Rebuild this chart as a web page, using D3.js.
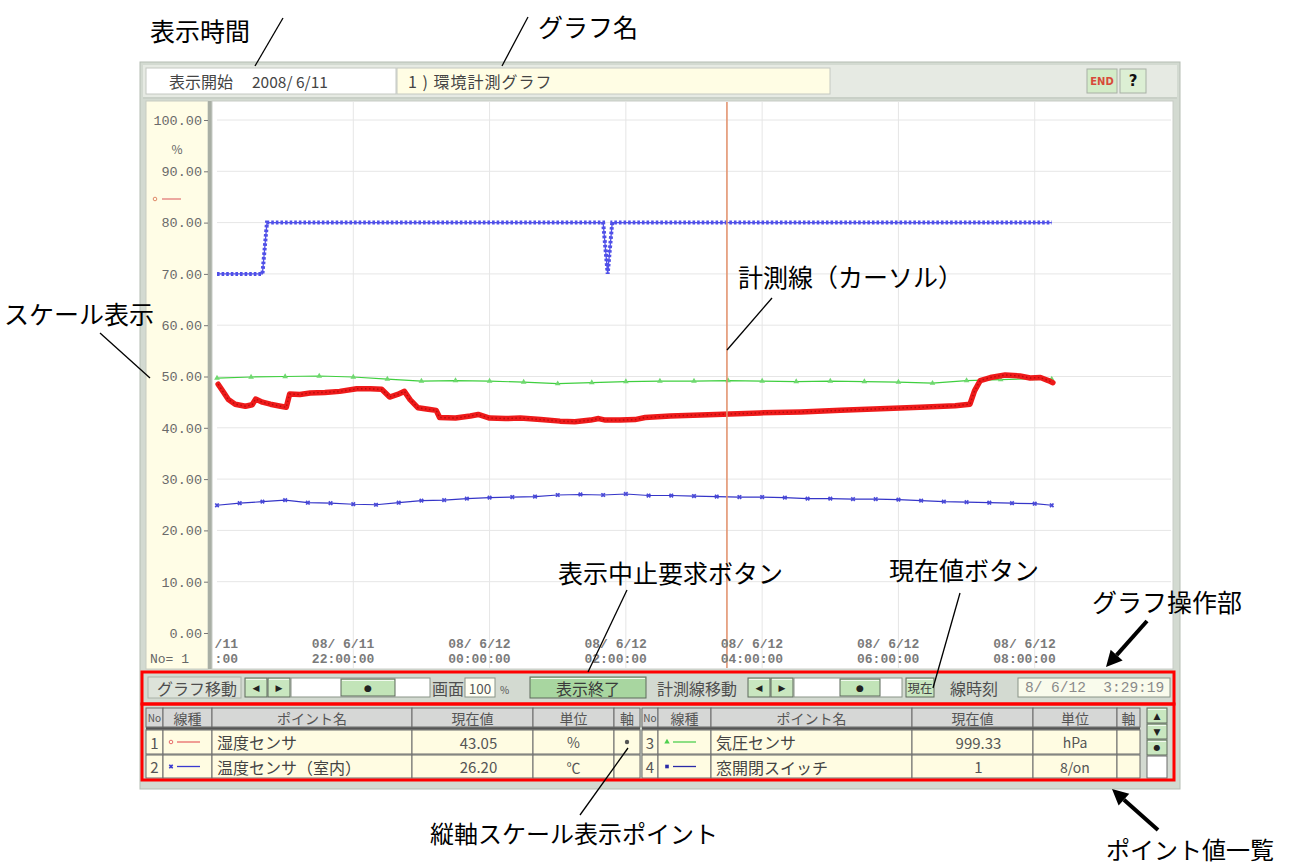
<!DOCTYPE html>
<html><head><meta charset="utf-8">
<script src="https://cdn.jsdelivr.net/npm/d3@7/dist/d3.min.js"></script>
<style>
html,body{margin:0;padding:0;background:#fff;}
svg{display:block;}
text{white-space:pre;}
</style></head>
<body>
<svg id="c" width="1290" height="865"></svg>
<script>
// ---------------- DATA ----------------
const startLabel = "2008/ 6/11";
const graphTitle = "1 ) 環境計測グラフ";
const yTicks = [0,10,20,30,40,50,60,70,80,90,100];
const xTickTimes = ["11 20:00","11 22:00","12 00:00","12 02:00","12 04:00","12 06:00","12 08:00"];
const xTickLine1 = ["08/ 6/11","08/ 6/11","08/ 6/12","08/ 6/12","08/ 6/12","08/ 6/12","08/ 6/12"];
const xTickLine2 = ["20:00:00","22:00:00","00:00:00","02:00:00","04:00:00","06:00:00","08:00:00"];
const xDomain = ["11 20:00","12 10:00"];
const cursorTime = "12 03:29";
const cursorLabel = "8/ 6/12  3:29:19";

// 1 湿度センサ (%)
const humidity = [
 ["11 20:01",48.5],["11 20:04",47.5],["11 20:10",45.5],["11 20:16",44.6],["11 20:25",44.2],
 ["11 20:31",44.5],["11 20:34",45.6],["11 20:40",45.0],["11 20:47",44.6],["11 20:56",44.2],
 ["11 21:01",44.0],["11 21:04",46.6],["11 21:13",46.5],["11 21:22",46.8],["11 21:35",46.9],
 ["11 21:48",47.1],["11 22:03",47.6],["11 22:15",47.6],["11 22:25",47.5],["11 22:32",46.0],
 ["11 22:39",46.5],["11 22:45",47.1],["11 22:50",45.5],["11 22:57",43.9],["11 23:06",43.6],
 ["11 23:13",43.4],["11 23:16",42.0],["11 23:30",41.9],["11 23:43",42.3],["11 23:50",42.6],
 ["12 00:00",41.9],["12 00:14",41.8],["12 00:27",41.9],["12 00:45",41.6],["12 01:02",41.3],
 ["12 01:15",41.2],["12 01:29",41.5],["12 01:36",41.8],["12 01:42",41.5],["12 01:55",41.5],
 ["12 02:08",41.6],["12 02:17",42.0],["12 02:39",42.3],["12 03:06",42.5],["12 03:32",42.7],
 ["12 03:58",42.9],["12 04:34",43.1],["12 05:09",43.4],["12 05:44",43.7],["12 06:19",44.0],
 ["12 06:50",44.3],["12 07:03",44.6],["12 07:07",47.2],["12 07:12",49.2],["12 07:21",49.8],
 ["12 07:34",50.3],["12 07:47",50.1],["12 07:56",49.7],["12 08:05",49.8],["12 08:12",49.2],
 ["12 08:16",48.8]
];
// 2 温度センサ（室内）
const temperature = [
 ["11 20:00",24.9],["11 20:20",25.3],["11 20:40",25.6],["11 21:00",25.9],["11 21:20",25.4],
 ["11 21:40",25.3],["11 22:00",25.1],["11 22:20",25.0],["11 22:40",25.4],["11 23:00",25.8],
 ["11 23:20",25.9],["11 23:40",26.2],["12 00:00",26.4],["12 00:20",26.5],["12 00:40",26.6],
 ["12 01:00",26.9],["12 01:20",27.0],["12 01:40",26.9],["12 02:00",27.1],["12 02:20",26.8],
 ["12 02:40",26.8],["12 03:00",26.7],["12 03:20",26.6],["12 03:40",26.5],["12 04:00",26.5],
 ["12 04:20",26.4],["12 04:40",26.2],["12 05:00",26.2],["12 05:20",26.1],["12 05:40",26.1],
 ["12 06:00",26.0],["12 06:20",25.8],["12 06:40",25.6],["12 07:00",25.5],["12 07:20",25.4],
 ["12 07:40",25.3],["12 08:00",25.2],["12 08:15",24.9]
];
// 3 気圧センサ
const pressure = [
 ["11 20:00",49.7],["11 20:30",49.9],["11 21:00",50.0],["11 21:30",50.1],["11 22:00",49.9],
 ["11 22:30",49.5],["11 23:00",49.1],["11 23:30",49.2],["12 00:00",49.1],["12 00:30",48.9],
 ["12 01:00",48.6],["12 01:30",48.8],["12 02:00",49.0],["12 02:30",49.1],["12 03:00",49.1],
 ["12 03:30",49.2],["12 04:00",49.1],["12 04:30",49.0],["12 05:00",49.1],["12 05:30",49.0],
 ["12 06:00",48.9],["12 06:30",48.7],["12 07:00",49.2],["12 07:30",49.4],["12 08:00",49.6],
 ["12 08:15",49.5]
];
// 4 窓開閉スイッチ
const windowSwitch = [
 ["11 20:00",70],["11 20:40",70],["11 20:44",80],["12 01:40",80],["12 01:44",70],
 ["12 01:48",80],["12 08:15",80]
];

const pointRows = [
 [{no:"1",name:"湿度センサ",value:"43.05",unit:"%",axis:true},
  {no:"2",name:"温度センサ（室内）",value:"26.20",unit:"℃",axis:false}],
 [{no:"3",name:"気圧センサ",value:"999.33",unit:"hPa",axis:false},
  {no:"4",name:"窓開閉スイッチ",value:"1",unit:"8/on",axis:false}]
];
const headers = ["No","線種","ポイント名","現在値","単位","軸"];

// ---------------- STYLE ----------------
const UIF = "'Noto Sans CJK JP','Noto Sans',sans-serif";
const MONO = "'Liberation Mono','DejaVu Sans Mono',monospace";
const seriesStyle = {
 hum:{color:"#ee1a1a"}, tmp:{color:"#3535c8"}, prs:{color:"#3fcf3f"}, win:{color:"#5050e8"}
};

const svg = d3.select("#c");
const parseT = s => d3.timeParse("%Y-%m-%d %H:%M")("2008-06-" + s);

function rect(x,y,w,h,fill,stroke,sw){
  return svg.append("rect").attr("x",x).attr("y",y).attr("width",w).attr("height",h)
    .attr("fill",fill).attr("stroke",stroke||"none").attr("stroke-width",sw||1);
}
function txt(x,y,s,o){
  o=o||{};
  return svg.append("text").attr("x",x).attr("y",y).text(s)
    .attr("font-family",o.ff||UIF).attr("font-size",o.fs||14)
    .attr("fill",o.fill||"#4a4a4a").attr("text-anchor",o.anchor||"start")
    .attr("dominant-baseline","central").attr("font-weight",o.fw||"normal")
    .attr("letter-spacing",o.ls||0);
}

// ---------------- WINDOW FRAME ----------------
rect(140,62,1040,727,"#d3dad1","#b5bdb3");
rect(143,65,1034,32,"#e6eae3","none");
rect(146,68,250,26,"#ffffff","#c4c8c2");
rect(397,68,433,26,"#fffde4","#c4c8c2");
txt(169,81,"表示開始",{fs:16,fill:"#444"});
txt(252,81,startLabel,{fs:15.5,fill:"#444"});
txt(408,81,graphTitle,{fs:16,fill:"#444",ls:1});
// END / ? buttons
rect(1087,69,30,24,"#d3ecc8","#a8b0a6");
txt(1102,81,"END",{fs:10,fill:"#d84a3a",anchor:"middle",fw:"bold",ff:"'DejaVu Sans',sans-serif"});
rect(1120,69,26,24,"#dcefd4","#a8b0a6");
txt(1133,81,"?",{fs:15,fill:"#111",anchor:"middle",fw:"bold",ff:"'DejaVu Sans',sans-serif"});
svg.append("line").attr("x1",143).attr("x2",1177).attr("y1",98).attr("y2",98).attr("stroke","#bfc6bd");

// ---------------- CHART ----------------
const plotL = 217, plotR = 1171, plotT = 101, plotB = 668;
const x = d3.scaleTime().domain(xDomain.map(parseT)).range([plotL, plotR]);
const y = d3.scaleLinear().domain([0,100]).range([633,120]);

rect(146,101,62,568,"#fffde6","#c8ccc2");
rect(208,101,4,568,"#a9afa5","none");
rect(212,101,961,568,"#ffffff","#c8ccc6");

const clip = svg.append("defs").append("clipPath").attr("id","pc");
clip.append("rect").attr("x",214).attr("y",102).attr("width",958).attr("height",566);
const plot = svg.append("g").attr("clip-path","url(#pc)");

// grid
plot.append("g").selectAll("line").data(yTicks.slice(1)).join("line")
  .attr("x1",plotL).attr("x2",plotR).attr("y1",d=>y(d)).attr("y2",d=>y(d))
  .attr("stroke","#e6e6e6").attr("stroke-width",1);
plot.append("g").selectAll("line").data(xTickTimes.slice(1)).join("line")
  .attr("x1",d=>x(parseT(d))).attr("x2",d=>x(parseT(d))).attr("y1",plotT).attr("y2",plotB)
  .attr("stroke","#e6e6e6").attr("stroke-width",1);

// x tick labels (two lines; leading chars cut where a label runs past the plot's left edge)
const xl = svg.append("g").selectAll("g").data(xTickTimes).join("g")
  .attr("transform",d=>`translate(${x(parseT(d))+21},0)`);
[[xTickLine1,644],[xTickLine2,659]].forEach(([labels,yy])=>{
  xl.append("text").attr("x",0).attr("y",yy)
    .attr("text-anchor","end").attr("dominant-baseline","central")
    .attr("font-family",MONO).attr("font-size",13).attr("fill","#7a7a7a")
    .attr("font-weight","bold")
    .text((d,i)=>labels[i]);
});
xl.each(function(d){
  const right = x(parseT(d))+21;
  d3.select(this).selectAll("text").each(function(){
    let s = this.textContent;
    while(s.length && right - this.getComputedTextLength() < plotL-4){
      s = s.slice(1); this.textContent = s;
    }
  });
});

// y axis
const ya = svg.append("g").attr("transform","translate(208,0)")
  .call(d3.axisLeft(y).tickValues(yTicks).tickFormat(d3.format(".2f")).tickSize(4).tickPadding(2));
ya.select(".domain").remove();
ya.selectAll(".tick line").attr("stroke","#777");
ya.selectAll(".tick text").attr("font-family",MONO).attr("font-size",13.5).attr("fill","#6a6a6a");
txt(177,148,"%",{fs:12,fill:"#666",anchor:"middle"});
svg.append("circle").attr("cx",155).attr("cy",199).attr("r",1.8).attr("fill","none").attr("stroke","#e08a6a");
svg.append("line").attr("x1",162).attr("x2",181).attr("y1",199).attr("y2",199).attr("stroke","#e07070").attr("stroke-width",1.2);
txt(150,659,"No= 1",{ff:MONO,fs:13,fill:"#666"});

const line = d3.line().x(d=>x(parseT(d[0]))).y(d=>y(d[1]));

// pressure (green, triangles)
plot.append("path").attr("d",line(pressure)).attr("fill","none")
  .attr("stroke",seriesStyle.prs.color).attr("stroke-width",1.2);
plot.append("g").selectAll("path").data(pressure).join("path")
  .attr("d",d3.symbol(d3.symbolTriangle,14)())
  .attr("transform",d=>`translate(${x(parseT(d[0]))},${y(d[1])})`)
  .attr("fill","#6fd86f");

// temperature (blue, crosses)
plot.append("path").attr("d",line(temperature)).attr("fill","none")
  .attr("stroke",seriesStyle.tmp.color).attr("stroke-width",1.2);
plot.append("g").selectAll("path").data(temperature).join("path")
  .attr("d",d3.symbol(d3.symbolCross,14)())
  .attr("transform",d=>`translate(${x(parseT(d[0]))},${y(d[1])}) rotate(45)`)
  .attr("fill","#4a4ad8");

// window switch (blue, dense squares)
plot.append("path").attr("d",line(windowSwitch)).attr("fill","none")
  .attr("stroke",seriesStyle.win.color).attr("stroke-width",1.3);
plot.append("path").attr("d",line(windowSwitch)).attr("fill","none")
  .attr("stroke",seriesStyle.win.color).attr("stroke-width",4).attr("stroke-dasharray","2.6 2");

// humidity (red, thick)
plot.append("path").attr("d",line(humidity)).attr("fill","none")
  .attr("stroke",seriesStyle.hum.color).attr("stroke-width",5.5)
  .attr("stroke-linejoin","round").attr("stroke-linecap","round");
plot.append("path").attr("d",line(humidity)).attr("fill","none")
  .attr("stroke","#b80c0c").attr("stroke-width",1.4).attr("stroke-dasharray","1.5 2.5");

// cursor
plot.append("line").attr("x1",x(parseT(cursorTime))).attr("x2",x(parseT(cursorTime)))
  .attr("y1",plotT).attr("y2",plotB).attr("stroke","#e39470").attr("stroke-width",1.6);

// ---------------- CONTROLS ----------------
function btn(x0,y0,w,h,fill,label,o){
  rect(x0,y0,w,h,fill,"#5e6a5c",1);
  svg.append("line").attr("x1",x0+1).attr("x2",x0+w-1).attr("y1",y0+1.5).attr("y2",y0+1.5).attr("stroke","#f2fbef");
  if(label) txt(x0+w/2,y0+h/2,label,Object.assign({anchor:"middle"},o||{}));
}
function recess(x0,y0,w,h,label){
  rect(x0,y0,w,h,"#dde3da","#aab2a8");
  txt(x0+9,y0+h/2,label,{fs:16,fill:"#4e4e4e"});
}
const cy0 = 677, ch = 21;
const arrowF = {fs:9,fill:"#222",ff:"'DejaVu Sans',sans-serif"};
recess(148,cy0,93,ch,"グラフ移動");
btn(245,cy0+1,22,ch-2,"#c9e7c0","◀",arrowF);
btn(268,cy0+1,22,ch-2,"#c9e7c0","▶",arrowF);
rect(291,cy0+1,139,ch-2,"#ffffff","#8a9488");
btn(341,cy0+2,54,ch-4,"#c2e4b8","●",arrowF);
txt(432,cy0+ch/2,"画面",{fs:16,fill:"#4e4e4e"});
rect(465,cy0+1,30,ch-2,"#fffff4","#8a9488");
txt(480,cy0+ch/2,"100",{fs:13.5,fill:"#555",anchor:"middle"});
txt(500,cy0+ch/2+2,"%",{fs:10,fill:"#555"});
btn(530,cy0,116,ch,"#a8d6a0","表示終了",{fs:16,fill:"#3a3a3a"});
txt(657,cy0+ch/2,"計測線移動",{fs:16,fill:"#4e4e4e"});
btn(748,cy0+1,22,ch-2,"#c9e7c0","◀",arrowF);
btn(771,cy0+1,22,ch-2,"#c9e7c0","▶",arrowF);
rect(794,cy0+1,108,ch-2,"#ffffff","#8a9488");
btn(840,cy0+2,40,ch-4,"#c2e4b8","●",arrowF);
btn(906,cy0+1,28,ch-2,"#c9e7c0","現在",{fs:12.5,fill:"#444"});
txt(950,cy0+ch/2,"線時刻",{fs:16,fill:"#4e4e4e"});
rect(1018,cy0+1,152,ch-2,"#f9fbec","#8a9488");
txt(1025,cy0+ch/2,cursorLabel,{fs:14.5,fill:"#8a8a8a",ff:MONO});

// ---------------- TABLE ----------------
const colsL = [146,163,212,412,533,614,640];
const colsR = [642,658,711,912,1033,1117,1140];
const rowY = [[708,727],[730,754],[755,778]];
function drawTable(cols, rows){
  for(let i=0;i<6;i++){
    rect(cols[i],rowY[0][0],cols[i+1]-cols[i],rowY[0][1]-rowY[0][0],"#d6d7d6","#6a6a6a");
    txt((cols[i]+cols[i+1])/2,(rowY[0][0]+rowY[0][1])/2,headers[i],
      {fs:i===0?10:14,fill:"#555",anchor:"middle"});
  }
  svg.append("line").attr("x1",cols[0]).attr("x2",cols[6]).attr("y1",728.5).attr("y2",728.5)
    .attr("stroke","#555").attr("stroke-width",2.5);
  rows.forEach((r,ri)=>{
    const [t,b] = rowY[ri+1], m=(t+b)/2;
    for(let i=0;i<6;i++) rect(cols[i],t,cols[i+1]-cols[i],b-t,"#fffce2","#6a6a6a");
    txt((cols[0]+cols[1])/2,m,r.no,{fs:15,fill:"#555",anchor:"middle"});
    txt(cols[2]+5,m,r.name,{fs:16,fill:"#444"});
    txt((cols[3]+cols[4])/2+6,m,r.value,{fs:15,fill:"#555",anchor:"middle"});
    txt((cols[4]+cols[5])/2,m,r.unit,{fs:14,fill:"#555",anchor:"middle"});
    if(r.axis) svg.append("circle").attr("cx",(cols[5]+cols[6])/2).attr("cy",m).attr("r",2.2).attr("fill","#555");
  });
}
drawTable(colsL,pointRows[0]);
drawTable(colsR,pointRows[1]);
function lineSym(cx,cyy,color,kind){
  svg.append("line").attr("x1",cx+6).attr("x2",cx+29).attr("y1",cyy).attr("y2",cyy).attr("stroke",color).attr("stroke-width",1.3);
  if(kind==="circle") svg.append("circle").attr("cx",cx).attr("cy",cyy).attr("r",1.8).attr("fill","none").attr("stroke",color);
  else {
    const t = kind==="cross"?d3.symbolCross:kind==="tri"?d3.symbolTriangle:d3.symbolSquare;
    svg.append("path").attr("d",d3.symbol(t,13)()).attr("fill",color)
      .attr("transform",`translate(${cx},${cyy})${kind==="cross"?" rotate(45)":""}`);
  }
}
lineSym(171,742,"#e86a6a","circle");
lineSym(171,766.5,"#3a3ad0","cross");
lineSym(667,742,"#4fd04f","tri");
lineSym(667,766.5,"#2a2aa8","square");
btn(1147,708,20,15,"#c9e7c0","▲",arrowF);
btn(1147,724,20,15,"#c9e7c0","▼",arrowF);
btn(1147,740,20,15,"#c9e7c0","●",{fs:8,fill:"#222",ff:"'DejaVu Sans',sans-serif"});
rect(1147,756,20,22,"#ffffff","#6a6a6a");

// red annotation boxes
rect(142,672,1032,32,"none","#ff0000",3);
rect(142,704,1032,76,"none","#ff0000",3);

// ---------------- ANNOTATIONS ----------------
const AF = {fs:25,fill:"#000",ff:"'Noto Sans CJK JP',sans-serif"};
function lead(x1,y1,x2,y2,w){
  svg.append("line").attr("x1",x1).attr("y1",y1).attr("x2",x2).attr("y2",y2)
    .attr("stroke","#000").attr("stroke-width",w||1.3);
}
function arrow(x1,y1,x2,y2){
  const a=Math.atan2(y2-y1,x2-x1), L=16, Wd=8;
  const bx=x2-L*Math.cos(a), by=y2-L*Math.sin(a);
  lead(x1,y1,bx,by,4);
  svg.append("path").attr("d",`M${x2},${y2}L${bx+Wd*Math.sin(a)},${by-Wd*Math.cos(a)}L${bx-Wd*Math.sin(a)},${by+Wd*Math.cos(a)}Z`).attr("fill","#000");
}
txt(150,30,"表示時間",AF); lead(283,18,255,66);
txt(538,26,"グラフ名",AF); lead(528,17,502,66);
txt(4,313,"スケール表示",AF); lead(100,333,150,378);
txt(738,276,"計測線（カーソル）",AF); lead(772,298,727,350);
txt(558,572,"表示中止要求ボタン",AF); lead(627,590,588,672);
txt(889,569,"現在値ボタン",AF); lead(960,593,933,688);
txt(1092,601,"グラフ操作部",AF); arrow(1147,621,1106,667);
txt(430,832,"縦軸スケール表示ポイント",{fs:24,fill:"#000",ff:"'Noto Sans CJK JP',sans-serif"}); lead(580,815,628,748);
txt(1106,848,"ポイント値一覧",{fs:24,fill:"#000",ff:"'Noto Sans CJK JP',sans-serif"}); arrow(1158,830,1112,789);
</script>
</body></html>
